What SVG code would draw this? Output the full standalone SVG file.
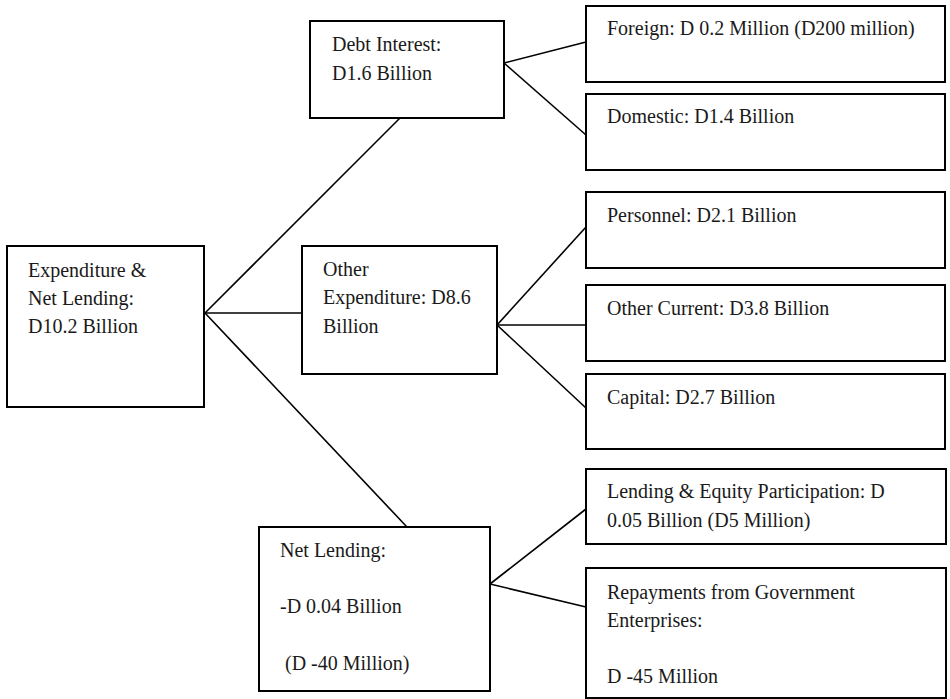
<svg xmlns="http://www.w3.org/2000/svg" width="950" height="699" viewBox="0 0 950 699">
<style>
  .box { fill: #ffffff; stroke: #000000; stroke-width: 2; }
  .conn line { stroke: #000000; stroke-width: 1.6; }
  text { font-family: "Liberation Serif", "Times New Roman", serif; font-size: 20px; fill: #1a1a1a; }
</style>
<rect width="950" height="699" fill="#ffffff"/>
<g id="connectors" class="conn">
  <line x1="205" y1="313" x2="400" y2="118"/>
  <line x1="205" y1="313" x2="302" y2="313"/>
  <line x1="205" y1="313" x2="407" y2="527"/>
  <line x1="504" y1="63" x2="586" y2="42"/>
  <line x1="504" y1="63" x2="586" y2="135"/>
  <line x1="497" y1="325" x2="586" y2="227"/>
  <line x1="497" y1="325" x2="586" y2="325"/>
  <line x1="497" y1="325" x2="586" y2="408"/>
  <line x1="490" y1="584" x2="586" y2="509"/>
  <line x1="490" y1="584" x2="586" y2="607"/>
</g>
<g id="root">
  <rect class="box" x="7" y="246" width="197" height="161"/>
  <text x="28" y="277">Expenditure &amp;</text>
  <text x="28" y="305">Net Lending:</text>
  <text x="28" y="333">D10.2 Billion</text>
</g>
<g id="debt-interest">
  <rect class="box" x="310" y="21" width="194" height="97"/>
  <text x="332" y="51">Debt Interest:</text>
  <text x="332" y="80">D1.6 Billion</text>
</g>
<g id="other-expenditure">
  <rect class="box" x="302" y="246" width="195" height="128"/>
  <text x="323" y="276">Other</text>
  <text x="323" y="304">Expenditure: D8.6</text>
  <text x="323" y="333">Billion</text>
</g>
<g id="net-lending">
  <rect class="box" x="259" y="527" width="231" height="164"/>
  <text x="280" y="557">Net Lending:</text>
  <text x="280" y="613">-D 0.04 Billion</text>
  <text x="280" y="670" xml:space="preserve"> (D -40 Million)</text>
</g>
<g id="foreign">
  <rect class="box" x="586" y="6" width="359" height="76"/>
  <text x="607" y="35">Foreign: D 0.2 Million (D200 million)</text>
</g>
<g id="domestic">
  <rect class="box" x="586" y="94" width="359" height="76"/>
  <text x="607" y="123">Domestic: D1.4 Billion</text>
</g>
<g id="personnel">
  <rect class="box" x="586" y="192" width="359" height="76"/>
  <text x="607" y="222">Personnel: D2.1 Billion</text>
</g>
<g id="other-current">
  <rect class="box" x="586" y="285" width="359" height="76"/>
  <text x="607" y="315">Other Current: D3.8 Billion</text>
</g>
<g id="capital">
  <rect class="box" x="586" y="374" width="359" height="75"/>
  <text x="607" y="404">Capital: D2.7 Billion</text>
</g>
<g id="lending-equity">
  <rect class="box" x="586" y="469" width="360" height="75"/>
  <text x="607" y="498">Lending &amp; Equity Participation: D</text>
  <text x="607" y="527">0.05 Billion (D5 Million)</text>
</g>
<g id="repayments">
  <rect class="box" x="586" y="568" width="360" height="130"/>
  <text x="607" y="599">Repayments from Government</text>
  <text x="607" y="627">Enterprises:</text>
  <text x="607" y="683">D -45 Million</text>
</g>
</svg>
